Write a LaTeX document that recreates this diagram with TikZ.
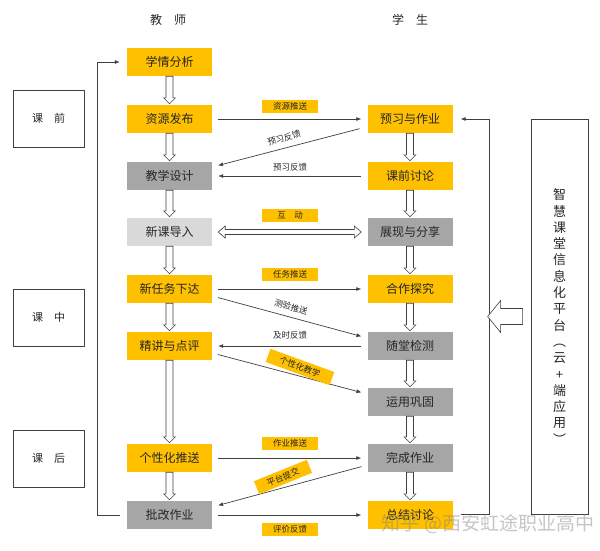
\documentclass[tikz,border=0pt]{standalone}
\usepackage{fontspec}
\setmainfont{Noto Sans CJK SC}
\usetikzlibrary{calc,arrows.meta}
\definecolor{ylw}{HTML}{FFC000}
\definecolor{gry}{HTML}{A6A6A6}
\definecolor{lgry}{HTML}{D9D9D9}
\definecolor{txt}{HTML}{262626}
\definecolor{edge}{HTML}{404040}
\begin{document}
\begin{tikzpicture}[x=1pt,y=-1pt,
  box/.style={minimum width=85pt, minimum height=28pt, inner sep=0pt, font=\fontsize{12}{14}\selectfont, text=txt},
  ybox/.style={box, fill=ylw},
  gbox/.style={box, fill=gry},
  lbox/.style={box, fill=lgry},
  tag/.style={fill=ylw, minimum width=56pt, minimum height=13pt, inner sep=0pt, font=\fontsize{8.5}{10}\selectfont, text=txt},
  lab/.style={font=\fontsize{8.5}{10}\selectfont, text=txt, inner sep=1pt},
  phase/.style={draw=edge, line width=0.7pt, minimum width=71pt, minimum height=57pt, inner sep=0pt, font=\fontsize{11}{13}\selectfont, text=txt},
  head/.style={font=\fontsize{12}{14}\selectfont, text=txt},
  flow/.style={draw=edge, line width=0.7pt, -{Latex[length=5pt,width=4pt]}, shorten <=6pt, shorten >=6pt},
  loop/.style={draw=edge, line width=0.7pt, -{Latex[length=5pt,width=4pt]}},
  hollow/.style n args={3}{draw=edge, fill=white, line width=0.6pt,
    to path={let \p1=(\tikztostart), \p2=(\tikztotarget), \n1={atan2(\y2-\y1,\x2-\x1)} in
      ($(\p1)+(\n1+90:#1)$) -- ($(\p2)+(\n1+180:#3)+(\n1+90:#1)$) -- ($(\p2)+(\n1+180:#3)+(\n1+90:#2)$)
      -- (\p2) -- ($(\p2)+(\n1+180:#3)+(\n1-90:#2)$) -- ($(\p2)+(\n1+180:#3)+(\n1-90:#1)$)
      -- ($(\p1)+(\n1-90:#1)$) -- cycle}},
  hdown/.style={hollow={3.5pt}{6pt}{6pt}},
  hboth/.style n args={3}{draw=edge, fill=white, line width=0.6pt,
    to path={let \p1=(\tikztostart), \p2=(\tikztotarget), \n1={atan2(\y2-\y1,\x2-\x1)} in
      ($(\p1)+(\n1:#3)+(\n1+90:#1)$) -- ($(\p2)+(\n1+180:#3)+(\n1+90:#1)$) -- ($(\p2)+(\n1+180:#3)+(\n1+90:#2)$)
      -- (\p2) -- ($(\p2)+(\n1+180:#3)+(\n1-90:#2)$) -- ($(\p2)+(\n1+180:#3)+(\n1-90:#1)$)
      -- ($(\p1)+(\n1:#3)+(\n1-90:#1)$) -- ($(\p1)+(\n1:#3)+(\n1-90:#2)$) -- (\p1)
      -- ($(\p1)+(\n1:#3)+(\n1+90:#2)$) -- cycle}},
]
\useasboundingbox (0,0) rectangle (600,550);
\fill[white] (0,0) rectangle (600,550);

% headers
\node[head] (ht) at (168,20) {教\hspace{1em}师};
\node[head] (hs) at (410,20) {学\hspace{1em}生};

% phases
\node[phase] (p1) at (48.5,118.5) {课\hspace{1em}前};
\node[phase] (p2) at (48.5,317.5) {课\hspace{1em}中};
\node[phase] (p3) at (48.5,458.5) {课\hspace{1em}后};

% teacher column
\node[ybox] (xq) at (169.5,62) {学情分析};
\node[ybox] (zy) at (169.5,119) {资源发布};
\node[gbox] (jx) at (169.5,176) {教学设计};
\node[lbox] (xd) at (169.5,232) {新课导入};
\node[ybox] (xr) at (169.5,289) {新任务下达};
\node[ybox] (jj) at (169.5,346) {精讲与点评};
\node[ybox] (gx) at (169.5,458) {个性化推送};
\node[gbox] (pg) at (169.5,515) {批改作业};

% student column
\node[ybox] (yx) at (410,119) {预习与作业};
\node[ybox] (kt) at (410,176) {课前讨论};
\node[gbox] (zx) at (410,232) {展现与分享};
\node[ybox] (hz) at (410,289) {合作探究};
\node[gbox] (sj) at (410,346) {随堂检测};
\node[gbox] (yy) at (410,402) {运用巩固};
\node[gbox] (wc) at (410,458) {完成作业};
\node[ybox] (zj) at (410,515) {总结讨论};

% platform
\node[draw=edge, line width=0.7pt, minimum width=57pt, minimum height=395pt, inner sep=0pt,
      align=center, font=\fontsize{13}{16.3}\selectfont, text=txt] (pf) at (559.5,316.5)
  {智\\慧\\课\\堂\\信\\息\\化\\平\\台\\︵\\云\\+\\端\\应\\用\\︶};

% vertical hollow arrows
\draw[hdown] (xq.south) to ([yshift=1pt]zy.north);
\draw[hdown] (zy.south) to ([yshift=1pt]jx.north);
\draw[hdown] (jx.south) to ([yshift=1pt]xd.north);
\draw[hdown] (xd.south) to ([yshift=1pt]xr.north);
\draw[hdown] (xr.south) to ([yshift=1pt]jj.north);
\draw[hdown] (jj.south) to ([yshift=1pt]gx.north);
\draw[hdown] (gx.south) to ([yshift=1pt]pg.north);
\draw[hdown] (yx.south) to ([yshift=1pt]kt.north);
\draw[hdown] (kt.south) to ([yshift=1pt]zx.north);
\draw[hdown] (zx.south) to ([yshift=1pt]hz.north);
\draw[hdown] (hz.south) to ([yshift=1pt]sj.north);
\draw[hdown] (sj.south) to ([yshift=1pt]yy.north);
\draw[hdown] (yy.south) to ([yshift=1pt]wc.north);
\draw[hdown] (wc.south) to ([yshift=1pt]zj.north);

% horizontal / diagonal flows
\draw[flow] (zy.east) -- (yx.west);
\node[tag] (t1) at (290,106) {资源推送};
\draw[flow] ([xshift=-2pt,yshift=6pt]yx.south west) -- ([yshift=9pt]jx.east);
\node[lab, rotate=16] (l1) at (284,138) {预习反馈};
\draw[flow] (kt.west) -- (jx.east);
\node[lab] (l2) at (290,167) {预习反馈};

\draw[hboth={2.5pt}{6pt}{7pt}] ([xshift=6pt]xd.east) to ([xshift=-6pt]zx.west);
\node[tag] (t2) at (290,215) {互\hspace{1em}动};

\draw[flow] (xr.east) -- (hz.west);
\node[tag] (t3) at (290,274) {任务推送};
\draw[flow] ([yshift=-7pt]xr.east) -- ([yshift=8pt]sj.west);
\node[lab, rotate=-16] (l3) at (291,307) {测验推送};
\draw[flow] (sj.west) -- (jj.east);
\node[lab] (l4) at (290,335) {及时反馈};
\draw[flow] ([yshift=-7pt]jj.east) -- ([yshift=8pt]yy.west);
\node[tag, rotate=-20, minimum width=68pt, minimum height=14pt] (t4) at (300,367) {个性化教学};

\draw[flow] (gx.east) -- (wc.west);
\node[tag] (t5) at (290,443) {作业推送};
\draw[flow] ([yshift=-7pt]wc.west) -- ([yshift=8pt]pg.east);
\node[tag, rotate=22, minimum width=57pt, minimum height=14pt] (t6) at (283,477) {平台提交};
\draw[flow] (pg.east) -- (zj.west);
\node[tag] (t7) at (290,529) {评价反馈};

% loops
\draw[loop, shorten <=7pt, shorten >=7pt] (pg.west) -- ++(-29,0) |- (xq.west);
\draw[loop, shorten <=8pt, shorten >=8pt] ([yshift=1pt]zj.east) -- ++(37,0) |- (yx.east);

% platform arrow
\draw[hollow={8pt}{16pt}{13pt}] ([xshift=-8pt]pf.west) to ([xshift=-43pt]pf.west);

% watermark
\node[font=\fontsize{19}{21}\selectfont, text=gray, opacity=0.45] (wm) at (488,524) {知乎 @西安虹途职业高中};
\end{tikzpicture}
\end{document}
